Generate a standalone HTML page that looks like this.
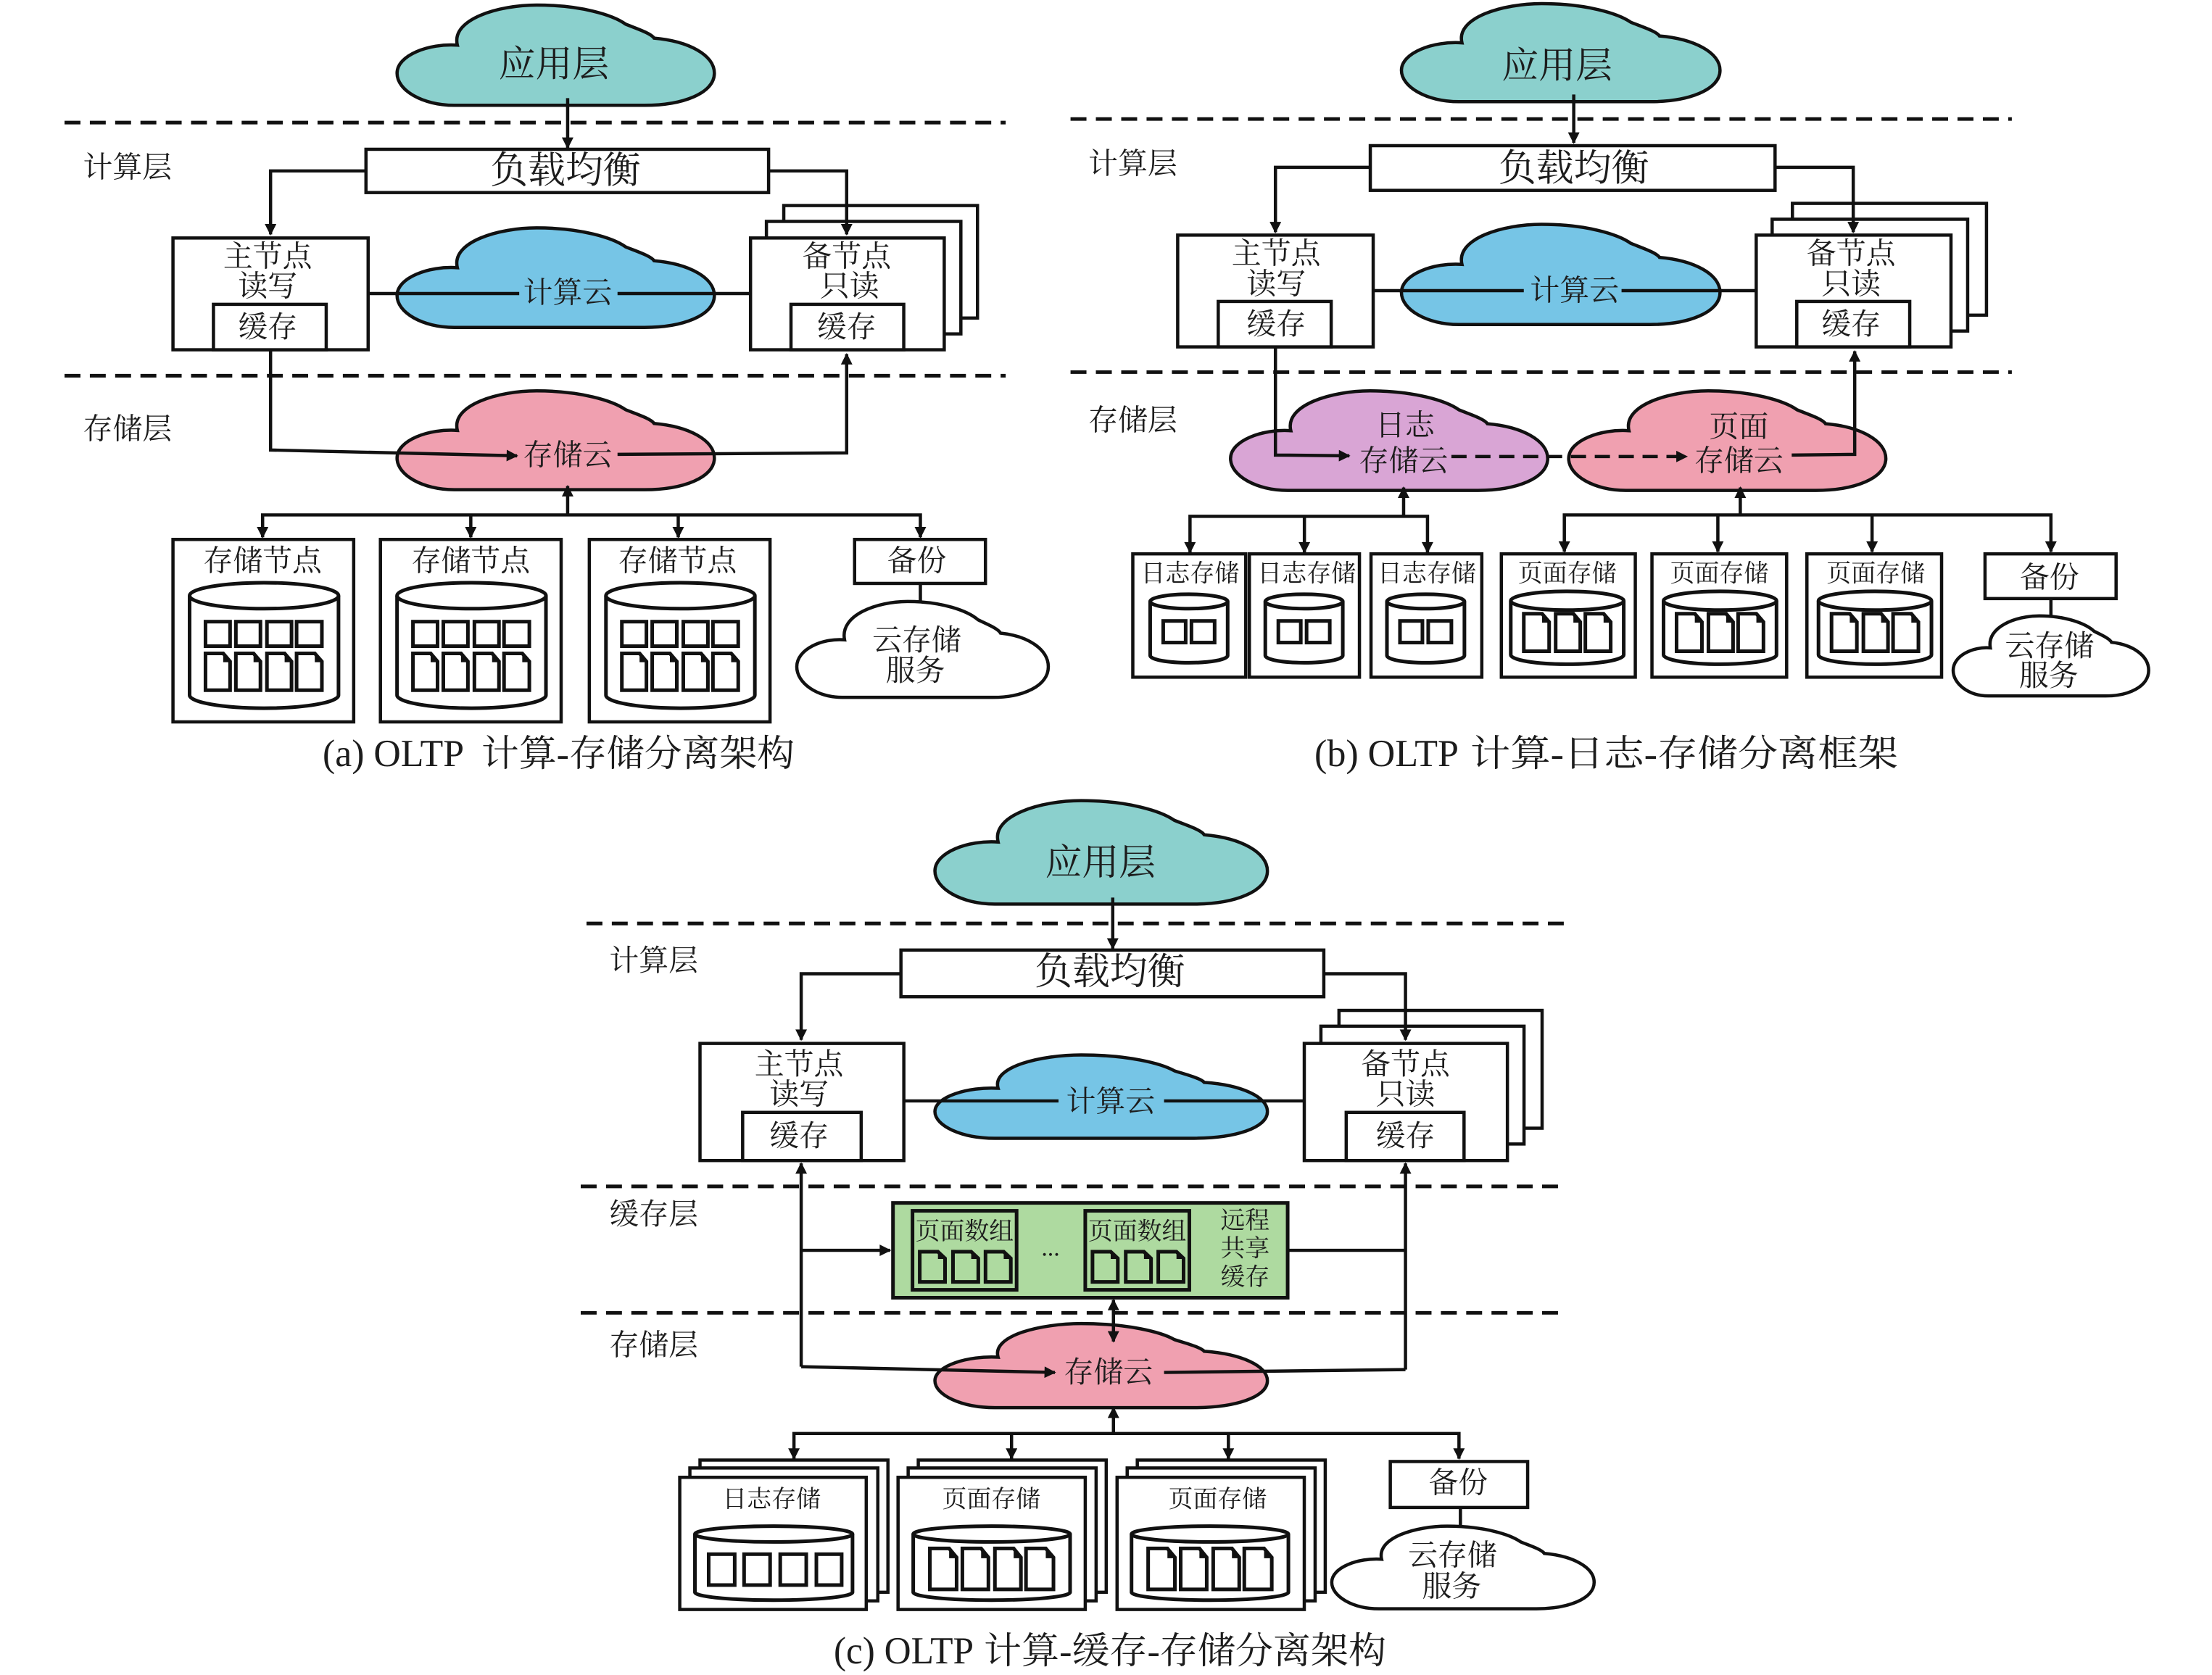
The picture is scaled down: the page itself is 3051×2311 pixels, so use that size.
<!DOCTYPE html>
<html lang="zh"><head><meta charset="utf-8"><title>OLTP</title>
<style>
html,body{margin:0;padding:0;background:#fff}
svg{display:block}
text{font-family:"Liberation Serif","Noto Serif CJK SC",serif;fill:#1c1c1c;text-anchor:middle;dominant-baseline:central}
.b,.b *{fill:#fff;stroke:#111;stroke-width:4.5}
.c use{stroke:#111;stroke-width:4.5}
.l{fill:none;stroke:#111;stroke-width:4.5}
.d{fill:none;stroke:#111;stroke-width:5;stroke-dasharray:22 13}
.k{fill:#fff;stroke:#111;stroke-width:5}
.dk{stroke:#111;stroke-width:5}
text.cap{text-anchor:start;dominant-baseline:auto}
</style></head><body>
<svg xmlns="http://www.w3.org/2000/svg" width="3051" height="2311" viewBox="0 0 3051 2311">
<rect width="3051" height="2311" fill="#fff"/>
<defs>
<marker id="a" viewBox="0 0 10 10" refX="9" refY="5" markerWidth="20" markerHeight="16" markerUnits="userSpaceOnUse" orient="auto-start-reverse"><path d="M0 0L10 5L0 10Z" fill="#111"/></marker>
<path id="cl" vector-effect="non-scaling-stroke" d="M19 40C17 14 32 0 44 0C58 0 68 10 72 19C75 23 80 28 81 33C92 36 100 50 100 68C100 88 90 100 78 100L18 100C8 100 0 85 0 68C0 50 10 38 19 40Z"/>
<g id="dc"><path class="dk" vector-effect="non-scaling-stroke" d="M0 0H72L100 22V100H0Z"/><path fill="#111" d="M72 2V24H98Z"/></g>
<g id="cya" fill="#fff">
<path class="k" d="M261 825V963A103 18 0 0 0 467 963V825"/><ellipse class="k" cx="364" cy="825" rx="103" ry="18"/>
<rect class="k" x="283" y="861" width="34" height="34"/><rect class="k" x="325" y="861" width="34" height="34"/><rect class="k" x="368" y="861" width="34" height="34"/><rect class="k" x="409" y="861" width="35" height="34"/>
<use href="#dc" transform="translate(283 905) scale(.34 .51)"/><use href="#dc" transform="translate(325 905) scale(.34 .51)"/><use href="#dc" transform="translate(368 905) scale(.34 .51)"/><use href="#dc" transform="translate(409 905) scale(.35 .51)"/>
</g>
<g id="cyl">
<path class="k" d="M1586 833V908A53.5 10 0 0 0 1693 908V833"/><ellipse class="k" cx="1639.5" cy="833" rx="53.5" ry="10"/>
<rect class="k" x="1604" y="860" width="31" height="30"/><rect class="k" x="1643" y="860" width="32" height="30"/>
</g>
<g id="cyp" fill="#fff">
<path class="k" d="M2084 832V907A78 13 0 0 0 2240 907V832"/><ellipse class="k" cx="2162" cy="832" rx="78" ry="13"/>
<use href="#dc" transform="translate(2102 850) scale(.35 .52)"/><use href="#dc" transform="translate(2146 850) scale(.34 .52)"/><use href="#dc" transform="translate(2187 850) scale(.35 .52)"/>
</g>
<g id="cyc" fill="#fff">
<path class="k" d="M1260 2129V2210A108.5 11 0 0 0 1477 2210V2129"/><ellipse class="k" cx="1368.5" cy="2129" rx="108.5" ry="11"/>
<use href="#dc" transform="translate(1283 2149) scale(.37 .57)"/><use href="#dc" transform="translate(1328 2149) scale(.36 .57)"/><use href="#dc" transform="translate(1373 2149) scale(.36 .57)"/><use href="#dc" transform="translate(1416 2149) scale(.38 .57)"/>
</g>
<g id="dg" fill="#aedaa0">
<use href="#dc" transform="translate(1269 1736) scale(.35 .42)"/><use href="#dc" transform="translate(1315 1736) scale(.35 .42)"/><use href="#dc" transform="translate(1360 1736) scale(.35 .42)"/>
</g>
</defs>

<!-- PANEL A -->
<g transform="matrix(.997 0 0 .995 1.3 1)">
<path class="d" d="M88 169H1390M88 520H1390"/>
<g class="c">
<use href="#cl" fill="#8bd0cd" transform="translate(548 6) scale(4.39 1.39)"/>
<use href="#cl" fill="#76c5e6" transform="translate(548 315) scale(4.39 1.38)"/>
<use href="#cl" fill="#f0a0b0" transform="translate(548 541) scale(4.39 1.37)"/>
<use href="#cl" fill="#fff" transform="translate(1101 833) scale(3.48 1.33)"/>
</g>
<g class="b">
<rect x="505" y="206" width="557" height="60"/>
<rect x="238" y="329" width="270" height="155"/><rect x="294" y="421" width="156" height="63"/>
<rect x="1083" y="284" width="268" height="156"/><rect x="1059" y="306" width="269" height="156"/><rect x="1037" y="329" width="268" height="155"/><rect x="1093" y="421" width="156" height="63"/>
<rect x="238" y="747" width="250" height="253"/><rect x="525" y="747" width="250" height="253"/><rect x="814" y="747" width="250" height="253"/>
<rect x="1181" y="747" width="181" height="61"/>
</g>
<use href="#cya"/><use href="#cya" transform="translate(287 0)"/><use href="#cya" transform="translate(576 0)"/>
<g class="l">
<path d="M784 135V204" marker-end="url(#a)"/>
<path d="M505 236H373V324" marker-end="url(#a)"/><path d="M1062 236H1170V324" marker-end="url(#a)"/>
<path d="M507 406H717M853 406H1037"/>
<path d="M373 484V623L714 631" marker-end="url(#a)"/><path d="M853 629L1170 627V490" marker-end="url(#a)"/>
<path d="M784 713V673" marker-end="url(#a)"/><path d="M362 744V713H1272V744" marker-end="url(#a)" marker-start="url(#a)"/>
<path d="M650 713V744" marker-end="url(#a)"/><path d="M937 713V744" marker-end="url(#a)"/>
<path d="M1272 808V835"/>
</g>
<text x="765" y="88" font-size="51">应用层</text>
<text x="781" y="236" font-size="52">负载均衡</text>
<g font-size="41">
<text x="175" y="231">计算层</text><text x="175" y="594">存储层</text>
<text x="369" y="355">主节点</text><text x="369" y="396">读写</text><text x="369" y="453">缓存</text>
<text x="1170" y="355">备节点</text><text x="1174" y="396">只读</text><text x="1170" y="453">缓存</text>
<text x="784" y="405">计算云</text><text x="784" y="630">存储云</text>
<text x="362" y="777">存储节点</text><text x="650" y="777">存储节点</text><text x="936" y="777">存储节点</text>
<text x="1267" y="777">备份</text><text x="1267" y="887">云存储</text><text x="1265" y="929">服务</text>
</g>
</g>
<text class="cap" x="445" y="1057" font-size="53" textLength="195" lengthAdjust="spacingAndGlyphs">(a) OLTP</text>
<text class="cap" x="664" y="1057" font-size="51" textLength="432" lengthAdjust="spacingAndGlyphs">计算-存储分离架构</text>

<!-- PANEL B -->
<g transform="matrix(.9987 0 0 .995 2.5 1)">
<path class="d" d="M1476 164H2776M1476 515H2776"/>
<g class="c">
<use href="#cl" fill="#8bd0cd" transform="translate(1933 4) scale(4.4 1.36)"/>
<use href="#cl" fill="#76c5e6" transform="translate(1933 310) scale(4.4 1.39)"/>
<use href="#cl" fill="#d9a5d5" transform="translate(1697 541) scale(4.38 1.38)"/>
<use href="#cl" fill="#f0a0b0" transform="translate(2164 541) scale(4.38 1.38)"/>
<use href="#cl" fill="#fff" transform="translate(2695 853) scale(2.7 1.11)"/>
</g>
<g class="b">
<rect x="1890" y="201" width="559" height="62"/>
<rect x="1624" y="325" width="270" height="155"/><rect x="1680" y="417" width="156" height="63"/>
<rect x="2473" y="281" width="268" height="155"/><rect x="2445" y="303" width="270" height="155"/><rect x="2423" y="325" width="269" height="155"/><rect x="2479" y="417" width="156" height="63"/>
<rect x="1562" y="767" width="156" height="171"/><rect x="1723" y="767" width="152" height="171"/><rect x="1891" y="767" width="153" height="171"/>
<rect x="2071" y="767" width="185" height="171"/><rect x="2279" y="767" width="186" height="171"/><rect x="2493" y="767" width="186" height="171"/>
<rect x="2739" y="767" width="181" height="62"/>
</g>
<use href="#cyl"/><use href="#cyl" transform="translate(159 0)"/><use href="#cyl" transform="translate(327 0)"/>
<use href="#cyp"/><use href="#cyp" transform="translate(211 0)"/><use href="#cyp" transform="translate(425 0)"/>
<g class="l">
<path d="M2171 130V197" marker-end="url(#a)"/>
<path d="M1890 231H1759V321" marker-end="url(#a)"/><path d="M2449 231H2557V321" marker-end="url(#a)"/>
<path d="M1894 402H2102M2237 402H2423"/>
<path d="M1759 480V630L1861 631" marker-end="url(#a)"/>
<path d="M2002 632H2327" stroke-dasharray="21 12" marker-end="url(#a)"/>
<path d="M2472 630L2559 629V486" marker-end="url(#a)"/>
<path d="M1936 715V675" marker-end="url(#a)"/><path d="M1641 765V715H1969V765" marker-end="url(#a)" marker-start="url(#a)"/><path d="M1799 715V765" marker-end="url(#a)"/>
<path d="M2401 713V675" marker-end="url(#a)"/><path d="M2158 764V713H2830V764" marker-end="url(#a)" marker-start="url(#a)"/><path d="M2370 713V764" marker-end="url(#a)"/><path d="M2583 713V764" marker-end="url(#a)"/>
<path d="M2830 829V853"/>
</g>
<text x="2148" y="90" font-size="51">应用层</text>
<text x="2171" y="233" font-size="52">负载均衡</text>
<g font-size="41">
<text x="1562" y="226">计算层</text><text x="1562" y="582">存储层</text>
<text x="1760" y="351">主节点</text><text x="1760" y="393">读写</text><text x="1760" y="449">缓存</text>
<text x="2554" y="351">备节点</text><text x="2554" y="393">只读</text><text x="2554" y="449">缓存</text>
<text x="2172" y="402">计算云</text>
<text x="1938" y="589">日志</text><text x="1936" y="638">存储云</text>
<text x="2399" y="591">页面</text><text x="2399" y="638">存储云</text>
<text x="2828" y="800">备份</text><text x="2828" y="895">云存储</text><text x="2827" y="936">服务</text>
</g>
<g font-size="34">
<text x="1641" y="795">日志存储</text><text x="1802" y="795">日志存储</text><text x="1968" y="795">日志存储</text>
<text x="2162" y="795">页面存储</text><text x="2372" y="795">页面存储</text><text x="2588" y="795">页面存储</text>
</g>
</g>
<text class="cap" x="1813" y="1057" font-size="53" textLength="199" lengthAdjust="spacingAndGlyphs">(b) OLTP</text>
<text class="cap" x="2028" y="1057" font-size="51" textLength="590" lengthAdjust="spacingAndGlyphs">计算-日志-存储分离框架</text>

<!-- PANEL C -->
<g transform="matrix(.997 0 0 .9911 3.4 6.5)">
<path class="d" d="M808 1279H2168M800 1645H2159M800 1821H2159"/>
<g class="c">
<use href="#cl" fill="#8bd0cd" transform="translate(1290 1108) scale(4.6 1.44)"/>
<use href="#cl" fill="#76c5e6" transform="translate(1290 1462) scale(4.6 1.16)"/>
<use href="#cl" fill="#f0a0b0" transform="translate(1290 1836) scale(4.6 1.17)"/>
<use href="#cl" fill="#fff" transform="translate(1839 2118) scale(3.63 1.15)"/>
</g>
<g class="b">
<rect x="1243" y="1316" width="585" height="65"/>
<rect x="965" y="1446" width="282" height="163"/><rect x="1024" y="1542" width="164" height="67"/>
<rect x="1849" y="1400" width="281" height="164"/><rect x="1824" y="1422" width="281" height="164"/><rect x="1801" y="1446" width="281" height="163"/><rect x="1859" y="1542" width="163" height="67"/>
<rect x="965" y="2026" width="260" height="184"/><rect x="951" y="2037" width="260" height="185"/><rect x="937" y="2050" width="258" height="184"/>
<rect x="1267" y="2026" width="260" height="184"/><rect x="1253" y="2037" width="260" height="185"/><rect x="1239" y="2050" width="259" height="184"/>
<rect x="1570" y="2026" width="260" height="184"/><rect x="1556" y="2037" width="260" height="185"/><rect x="1542" y="2050" width="259" height="184"/>
<rect x="1920" y="2028" width="190" height="64"/>
</g>
<rect x="1232" y="1668" width="546" height="132" fill="#aedaa0" stroke="#111" stroke-width="5"/>
<rect x="1259" y="1679" width="144" height="110" fill="#aedaa0" stroke="#111" stroke-width="5"/>
<rect x="1498" y="1679" width="144" height="110" fill="#aedaa0" stroke="#111" stroke-width="5"/>
<use href="#dg"/><use href="#dg" transform="translate(239 0)"/>
<path class="k" d="M958 2129V2210A109 11 0 0 0 1176 2210V2129"/><ellipse class="k" cx="1067" cy="2129" rx="109" ry="11"/>
<rect class="k" x="977" y="2157" width="36" height="43"/><rect class="k" x="1026" y="2157" width="36" height="43"/><rect class="k" x="1076" y="2157" width="36" height="43"/><rect class="k" x="1126" y="2157" width="35" height="43"/>
<use href="#cyc"/><use href="#cyc" transform="translate(302 0)"/>
<g class="l">
<path d="M1536 1243V1314" marker-end="url(#a)"/>
<path d="M1243 1349H1105V1441" marker-end="url(#a)"/><path d="M1828 1349H1941V1441" marker-end="url(#a)"/>
<path d="M1247 1526H1461M1607 1526H1801"/>
<path d="M1105 1896V1613" marker-end="url(#a)"/><path d="M1941 1900V1613" marker-end="url(#a)"/>
<path d="M1105 1734H1228" marker-end="url(#a)"/><path d="M1779 1734H1941"/>
<path d="M1537 1803V1861" marker-start="url(#a)" marker-end="url(#a)"/>
<path d="M1105 1896L1456 1904" marker-end="url(#a)"/><path d="M1607 1904L1941 1900"/>
<path d="M1537 1989V1953" marker-end="url(#a)"/><path d="M1095 2024V1989H2015V2024" marker-end="url(#a)" marker-start="url(#a)"/>
<path d="M1396 1989V2024" marker-end="url(#a)"/><path d="M1696 1989V2024" marker-end="url(#a)"/>
<path d="M2017 2092V2119"/>
</g>
<text x="1519" y="1194" font-size="51">应用层</text>
<text x="1532" y="1347" font-size="52">负载均衡</text>
<g font-size="41">
<text x="901" y="1331">计算层</text><text x="901" y="1684">缓存层</text><text x="901" y="1866">存储层</text>
<text x="1102" y="1475">主节点</text><text x="1102" y="1517">读写</text><text x="1102" y="1575">缓存</text>
<text x="1941" y="1475">备节点</text><text x="1941" y="1517">只读</text><text x="1941" y="1575">缓存</text>
<text x="1533" y="1527">计算云</text><text x="1530" y="1904">存储云</text>
<text x="2014" y="2058">备份</text><text x="2006" y="2159">云存储</text><text x="2005" y="2202">服务</text>
</g>
<g font-size="34">
<text x="1331" y="1708">页面数组</text><text x="1570" y="1708">页面数组</text>
<text x="1450" y="1731">...</text>
<text x="1719" y="1693">远程</text><text x="1719" y="1732">共享</text><text x="1719" y="1772">缓存</text>
<text x="1064" y="2081">日志存储</text><text x="1368" y="2081">页面存储</text><text x="1681" y="2081">页面存储</text>
</g>
</g>
<text class="cap" x="1150" y="2295" font-size="53" textLength="193" lengthAdjust="spacingAndGlyphs">(c) OLTP</text>
<text class="cap" x="1357" y="2295" font-size="51" textLength="555" lengthAdjust="spacingAndGlyphs">计算-缓存-存储分离架构</text>
</svg>
</body></html>
